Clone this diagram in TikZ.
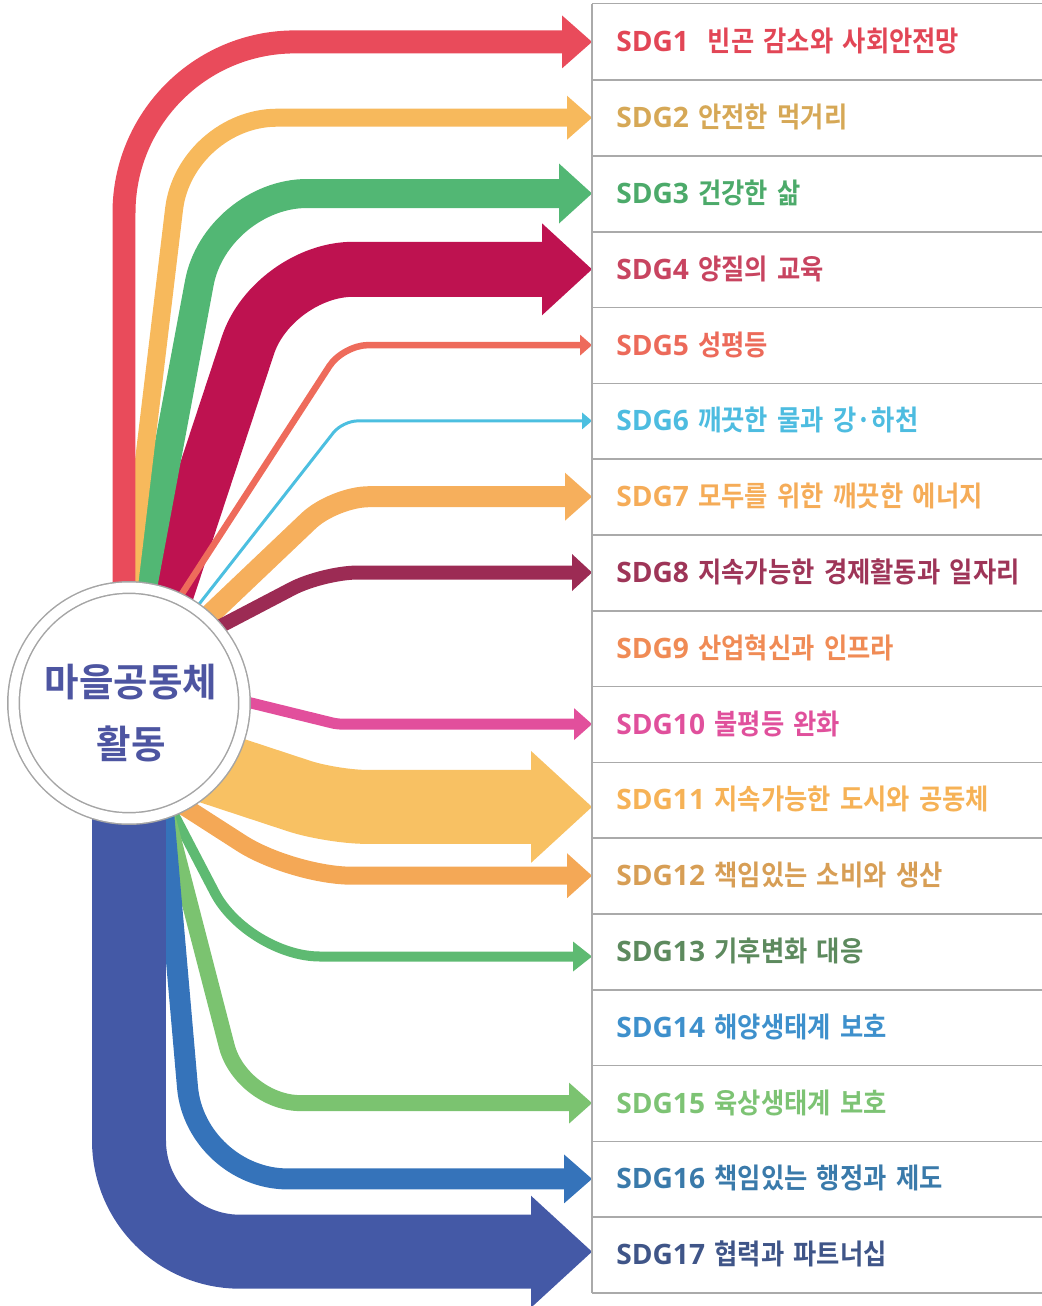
\documentclass[tikz,border=0pt]{standalone}
\usepackage{fontspec}
\setmainfont{Open Sans}
\newfontfamily\krfont{Noto Sans CJK KR}[UprightFont={* Bold}, BoldFont={* Bold}, FakeStretch=0.9]
\newfontfamily\hubfont{Noto Sans CJK KR}[UprightFont={* Bold}, BoldFont={* Bold}, FakeStretch=0.97]
\newcommand\hubline[1]{\raisebox{-0.2cm}[\height][\depth]{#1}}
\usepackage{tikz}
\usetikzlibrary{arrows.meta, backgrounds}
\definecolor{poverty}{HTML}{E94B5B}
\definecolor{hunger}{HTML}{F7B95C}
\definecolor{health}{HTML}{52B774}
\definecolor{education}{HTML}{BE1250}
\definecolor{gender}{HTML}{EE6B5B}
\definecolor{water}{HTML}{4CBFE0}
\definecolor{energy}{HTML}{F6AF5C}
\definecolor{work}{HTML}{9C2B54}
\definecolor{inequal}{HTML}{E24F9C}
\definecolor{cities}{HTML}{F8C163}
\definecolor{consume}{HTML}{F4A856}
\definecolor{climate}{HTML}{5EBA72}
\definecolor{land}{HTML}{7BC370}
\definecolor{peace}{HTML}{3573BA}
\definecolor{partner}{HTML}{4459A6}
\definecolor{povertytxt}{HTML}{E24656}
\definecolor{hungertxt}{HTML}{D6A856}
\definecolor{healthtxt}{HTML}{4CAA6A}
\definecolor{educationtxt}{HTML}{C84460}
\definecolor{gendertxt}{HTML}{EC6A5A}
\definecolor{watertxt}{HTML}{4DBCE0}
\definecolor{energytxt}{HTML}{F5AC58}
\definecolor{worktxt}{HTML}{9E3558}
\definecolor{industrytxt}{HTML}{F08B55}
\definecolor{inequaltxt}{HTML}{E0509C}
\definecolor{citiestxt}{HTML}{F6B256}
\definecolor{consumetxt}{HTML}{D79E55}
\definecolor{climatetxt}{HTML}{5D8A5E}
\definecolor{oceantxt}{HTML}{3E90CC}
\definecolor{landtxt}{HTML}{7DC374}
\definecolor{peacetxt}{HTML}{3A7AAA}
\definecolor{partnertxt}{HTML}{3F5588}
\definecolor{hubtext}{HTML}{4D55A1}
\definecolor{ringgray}{HTML}{A5A5A5}
\definecolor{rulegray}{HTML}{AAAAAA}

\begin{document}
\begin{tikzpicture}[
  x=0.02cm, y=-0.02cm,
  hub/.style={circle, draw=ringgray, line width=0.03cm, double=white, double distance=0.2cm,
              fill=white, minimum size=4.62cm, inner sep=0pt, align=center, text=hubtext,
              font=\hubfont\fontsize{22}{35}\selectfont},
  cell/.style={anchor=west, inner xsep=0.48cm, inner ysep=0pt, text width=8.6cm, align=left,
               minimum height=1.516cm, text height=0.4cm, text depth=0pt,
               font=\bfseries\fontsize{16}{19}\selectfont},
  rule/.style={draw=rulegray, line width=0.03cm},
  flow/.style={line join=round},
]
\useasboundingbox (0,0) rectangle (1042,1306);

\node[hub] (hub) at (129,703) {\hubline{\hspace*{0.08cm}마을공동체}\\\hubline{\hspace*{0.08cm}활동}};

\node[cell, text=povertytxt] (sdg1) at (592,41.9) {SDG1\ \ {\krfont 빈곤 감소와 사회안전망}};
\node[cell, text=hungertxt] (sdg2) at (592,117.7) {SDG2 {\krfont 안전한 먹거리}};
\node[cell, text=healthtxt] (sdg3) at (592,193.5) {SDG3 {\krfont 건강한 삶}};
\node[cell, text=educationtxt] (sdg4) at (592,269.3) {SDG4 {\krfont 양질의 교육}};
\node[cell, text=gendertxt] (sdg5) at (592,345.1) {SDG5 {\krfont 성평등}};
\node[cell, text=watertxt] (sdg6) at (592,420.9) {SDG6 {\krfont 깨끗한 물과 강·하천}};
\node[cell, text=energytxt] (sdg7) at (592,496.7) {SDG7 {\krfont 모두를 위한 깨끗한 에너지}};
\node[cell, text=worktxt] (sdg8) at (592,572.5) {SDG8 {\krfont 지속가능한 경제활동과 일자리}};
\node[cell, text=industrytxt] (sdg9) at (592,648.3) {SDG9 {\krfont 산업혁신과 인프라}};
\node[cell, text=inequaltxt] (sdg10) at (592,724.1) {SDG10 {\krfont 불평등 완화}};
\node[cell, text=citiestxt] (sdg11) at (592,799.9) {SDG11 {\krfont 지속가능한 도시와 공동체}};
\node[cell, text=consumetxt] (sdg12) at (592,875.7) {SDG12 {\krfont 책임있는 소비와 생산}};
\node[cell, text=climatetxt] (sdg13) at (592,951.5) {SDG13 {\krfont 기후변화 대응}};
\node[cell, text=oceantxt] (sdg14) at (592,1027.3) {SDG14 {\krfont 해양생태계 보호}};
\node[cell, text=landtxt] (sdg15) at (592,1103.1) {SDG15 {\krfont 육상생태계 보호}};
\node[cell, text=peacetxt] (sdg16) at (592,1178.9) {SDG16 {\krfont 책임있는 행정과 제도}};
\node[cell, text=partnertxt] (sdg17) at (592,1254.7) {SDG17 {\krfont 협력과 파트너십}};

\coordinate (edge) at (1042,0);
\draw[rule] (sdg1.north west) -- (sdg1.north west -| edge);
\foreach \i in {1,...,17}
  \draw[rule] (sdg\i.south west) -- (sdg\i.south west -| edge);
\draw[rule] (sdg1.north west) -- (sdg17.south west);

\begin{scope}[on background layer]
% upper fan
\draw[flow, draw=education, line width=1.1cm, rounded corners=1.6cm,
      -{Triangle[length=1cm, width=1.84cm, line width=0pt]}]
  ([shift={(1,0)}]hub.center) -- (273,0 |- sdg4.west) -- (sdg4.west);
\draw[flow, draw=health, line width=0.58cm, rounded corners=1.82cm,
      -{Triangle[length=0.66cm, width=1.2cm, line width=0pt]}]
  ([shift={(-8,0)}]hub.center) -- (216,0 |- sdg3.west) -- (sdg3.west);
\draw[flow, draw=hunger, line width=0.36cm, rounded corners=1.84cm,
      -{Triangle[length=0.5cm, width=0.88cm, line width=0pt]}]
  ([shift={(-14,0)}]hub.center) -- (185,0 |- sdg2.west) -- (sdg2.west);
\draw[flow, draw=poverty, line width=0.46cm, rounded corners=3.42cm,
      -{Triangle[length=0.6cm, width=1.06cm, line width=0pt]}]
  ([shift={(-5,0)}]hub.center) |- (sdg1.west);
\draw[flow, draw=gender, line width=0.13cm, rounded corners=0.5cm,
      -{Triangle[length=0.24cm, width=0.42cm, line width=0pt]}]
  ([shift={(23,-63)}]hub.center) -- (343,0 |- sdg5.west) -- (sdg5.west);
\draw[flow, draw=water, line width=0.06cm, rounded corners=0.3cm,
      -{Triangle[length=0.2cm, width=0.34cm, line width=0pt]}]
  ([shift={(42,-63)}]hub.center) -- (342.6,0 |- sdg6.west) -- (sdg6.west);
\draw[flow, draw=energy, line width=0.42cm, rounded corners=0.7cm,
      -{Triangle[length=0.54cm, width=0.96cm, line width=0pt]}]
  ([shift={(-12,0)}]hub.center) -- (334,0 |- sdg7.west) -- (sdg7.west);
\draw[flow, draw=work, line width=0.28cm, rounded corners=0.7cm,
      -{Triangle[length=0.4cm, width=0.74cm, line width=0pt]}]
  ([shift={(0,-29)}]hub.center) -- (323,0 |- sdg8.west) -- (sdg8.west);
% lower fan
\draw[flow, draw=inequal, line width=0.22cm, rounded corners=0.1cm,
      -{Triangle[length=0.36cm, width=0.64cm, line width=0pt]}]
  ([shift={(0,-30)}]hub.center) -- (337,0 |- sdg10.west) -- (sdg10.west);
\draw[flow, draw=cities, line width=1.48cm, rounded corners=0.7cm,
      -{Triangle[length=1.22cm, width=2.24cm, line width=0pt]}]
  ([shift={(0,37)}]hub.center) -- (332,806.9) -- ([yshift=-0.14cm]sdg11.west);
\draw[flow, draw=consume, line width=0.36cm, rounded corners=1.2cm,
      -{Triangle[length=0.5cm, width=0.9cm, line width=0pt]}]
  ([shift={(0,68)}]hub.center) -- (292,0 |- sdg12.west) -- (sdg12.west);
\draw[flow, draw=climate, line width=0.2cm, rounded corners=1.44cm,
      -{Triangle[length=0.38cm, width=0.6cm, line width=0pt]}]
  ([shift={(-13,0)}]hub.center) -- (248,956.5) -- ([yshift=-0.1cm]sdg13.west);
\draw[flow, draw=land, line width=0.32cm, rounded corners=1.18cm,
      -{Triangle[length=0.46cm, width=0.82cm, line width=0pt]}]
  ([shift={(9,0)}]hub.center) -- (241.5,0 |- sdg15.west) -- (sdg15.west);
\draw[flow, draw=peace, line width=0.42cm, rounded corners=1.84cm,
      -{Triangle[length=0.56cm, width=0.98cm, line width=0pt]}]
  ([shift={(25,0)}]hub.center) -- (195.5,0 |- sdg16.west) -- (sdg16.west);
\draw[flow, draw=partner, line width=1.48cm, rounded corners=2.22cm,
      -{Triangle[length=1.22cm, width=2.24cm, line width=0pt]}]
  (hub.center) |- ([yshift=0.06cm]sdg17.west);
\end{scope}

\end{tikzpicture}
\end{document}
